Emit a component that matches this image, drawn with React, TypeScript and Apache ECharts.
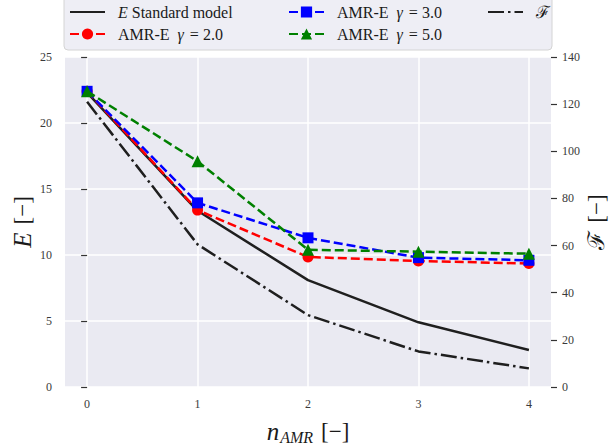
import React, { useEffect, useRef } from "react";
import * as echarts from "echarts";

const nAMR = [0, 1, 2, 3, 4];
const xTickValues = [0, 1, 2, 3, 4];
const eStandard = [22.3, 13.35, 8.1, 4.9, 2.8];
const amrGamma2 = [22.4, 13.4, 9.85, 9.55, 9.35];
const amrGamma3 = [22.4, 13.95, 11.3, 9.8, 9.6];
const amrGamma5 = [22.4, 17.1, 10.4, 10.25, 10.1];
const fValues = [121, 60.5, 30.5, 15.1, 7.9];

const SERIF = "'Liberation Serif', 'DejaVu Serif', serif";
const TICK_COLOR = "#3a3a3a";
const TEXT_COLOR = "#1a1a1a";

const NAME_STD = "E Standard model";
const NAME_G2 = "AMR-E γ = 2.0";
const NAME_G3 = "AMR-E γ = 3.0";
const NAME_G5 = "AMR-E γ = 5.0";
const NAME_F = "ℱ";

const legendLabels: Record<string, string> = {
  [NAME_STD]: "{g| }{i|E} Standard model",
  [NAME_G2]: "{g| }AMR-E{gi|γ} = 2.0",
  [NAME_G3]: "{g| }AMR-E{gi|γ} = 3.0",
  [NAME_G5]: "{g| }AMR-E{gi|γ} = 5.0",
  [NAME_F]: "{g| }{f|ℱ}",
};

const pair = (ys: number[]) => nAMR.map((x, i) => [x, ys[i]]);

export default function App() {
  const ref = useRef<HTMLDivElement>(null);
  useEffect(() => {
    if (!ref.current) return;
    const chart = echarts.init(ref.current, undefined, { renderer: "svg" });
    const base = { fontFamily: SERIF, fontSize: 16, color: TEXT_COLOR };
    const legendText = {
      ...base,
      lineHeight: 18,
      rich: {
        g: { ...base, width: 8 },
        i: { ...base, fontStyle: "italic" },
        gi: { ...base, fontStyle: "italic", padding: [0, 2, 0, 8] },
        f: { ...base, fontSize: 17 },
      },
    };
    const legendCommon = {
      orient: "vertical",
      top: 3,
      itemWidth: 35,
      itemHeight: 14,
      itemGap: 4,
      padding: 0,
      textStyle: legendText,
      formatter: (name: string) => legendLabels[name] ?? name,
    };
    const hiddenSymbol = { itemStyle: { opacity: 0 } };
    const tick = { show: true, length: 6, lineStyle: { color: "#333", width: 1.2 } };
    const nb = { fontFamily: SERIF, color: TEXT_COLOR };
    const nameStyle = {
      ...nb,
      fontSize: 23,
      rich: {
        i: { ...nb, fontStyle: "italic", fontSize: 25 },
        f: { ...nb, fontSize: 23 },
        s: { ...nb, fontStyle: "italic", fontSize: 16, padding: [12, 0, 0, 1] },
        b: { ...nb, fontSize: 23, padding: [0, 0, 0, 8] },
      },
    };
    const option: any = {
      animation: false,
      backgroundColor: "#ffffff",
      textStyle: { fontFamily: SERIF },
      graphic: [
        {
          type: "rect",
          z: 0,
          shape: { x: 64, y: -6, width: 488, height: 56, r: 4 },
          style: { fill: "#EEEEF5", stroke: "#D4D4D4", lineWidth: 1 },
        },
      ],
      legend: [
        {
          ...legendCommon,
          left: 69,
          data: [{ name: NAME_STD, ...hiddenSymbol }, NAME_G2],
        },
        { ...legendCommon, left: 288, data: [NAME_G3, NAME_G5] },
        {
          ...legendCommon,
          left: 487,
          data: [{ name: NAME_F, ...hiddenSymbol }],
        },
      ],
      grid: {
        left: 65,
        right: 59,
        top: 57,
        bottom: 61,
        show: true,
        backgroundColor: "#EAEAF2",
        borderWidth: 0,
        containLabel: false,
        outerBoundsMode: "none",
      },
      xAxis: {
        type: "value",
        min: -0.2,
        max: 4.2,
        axisLine: { show: false },
        axisTick: { show: false, customValues: xTickValues },
        axisLabel: { customValues: xTickValues, margin: 11, fontSize: 12, color: TICK_COLOR, fontFamily: SERIF },
        splitLine: { show: true, lineStyle: { color: "#ffffff", width: 1.5 } },
        name: "{i|n}{s|AMR}{b|[−]}",
        nameLocation: "middle",
        nameGap: 30,
        nameMoveOverlap: false,
        nameTextStyle: nameStyle,
      },
      yAxis: [
        {
          type: "value",
          position: "left",
          min: 0,
          max: 25,
          interval: 5,
          axisLine: { show: false },
          axisTick: tick,
          axisLabel: { margin: 13, fontSize: 12, color: TICK_COLOR, fontFamily: SERIF },
          splitLine: { show: true, lineStyle: { color: "#ffffff", width: 1.5 } },
          name: "{i|E}{b|[−]}",
          nameLocation: "middle",
          nameRotate: 90,
          nameGap: 30,
          nameMoveOverlap: false,
          nameTextStyle: nameStyle,
        },
        {
          type: "value",
          position: "right",
          min: 0,
          max: 140,
          interval: 20,
          axisLine: { show: false },
          axisTick: tick,
          axisLabel: { margin: 11, fontSize: 12, color: TICK_COLOR, fontFamily: SERIF },
          splitLine: { show: false },
          name: "{f|ℱ}{b|[−]}",
          nameLocation: "middle",
          nameRotate: 90,
          nameGap: 34,
          nameMoveOverlap: false,
          nameTextStyle: nameStyle,
        },
      ],
      series: [
        {
          name: NAME_STD,
          type: "line",
          yAxisIndex: 0,
          data: pair(eStandard),
          symbol: "none",
          lineStyle: { color: "#1f1f1f", width: 2.5 },
          itemStyle: { color: "#1f1f1f" },
          z: 2,
        },
        {
          name: NAME_G2,
          type: "line",
          yAxisIndex: 0,
          data: pair(amrGamma2),
          symbol: "circle",
          symbolSize: 11,
          lineStyle: { color: "#ff0000", width: 2.5, type: [9, 4] },
          itemStyle: { color: "#ff0000" },
          z: 3,
        },
        {
          name: NAME_G3,
          type: "line",
          yAxisIndex: 0,
          data: pair(amrGamma3),
          symbol: "rect",
          symbolSize: 11,
          lineStyle: { color: "#0000ff", width: 2.5, type: [9, 4] },
          itemStyle: { color: "#0000ff" },
          z: 4,
        },
        {
          name: NAME_G5,
          type: "line",
          yAxisIndex: 0,
          data: pair(amrGamma5),
          symbol: "triangle",
          symbolSize: 12,
          lineStyle: { color: "#008000", width: 2.5, type: [9, 4] },
          itemStyle: { color: "#008000" },
          z: 5,
        },
        {
          name: NAME_F,
          type: "line",
          yAxisIndex: 1,
          data: pair(fValues),
          symbol: "none",
          lineStyle: { color: "#1f1f1f", width: 2.5, type: [16, 4, 2.5, 4] },
          itemStyle: { color: "#1f1f1f" },
          z: 6,
        },
      ],
    };
    chart.setOption(option);
    return () => chart.dispose();
  }, []);
  return (
    <div
      ref={ref}
      style={{ position: "fixed", left: 0, top: 0, width: 610, height: 448 }}
    />
  );
}
